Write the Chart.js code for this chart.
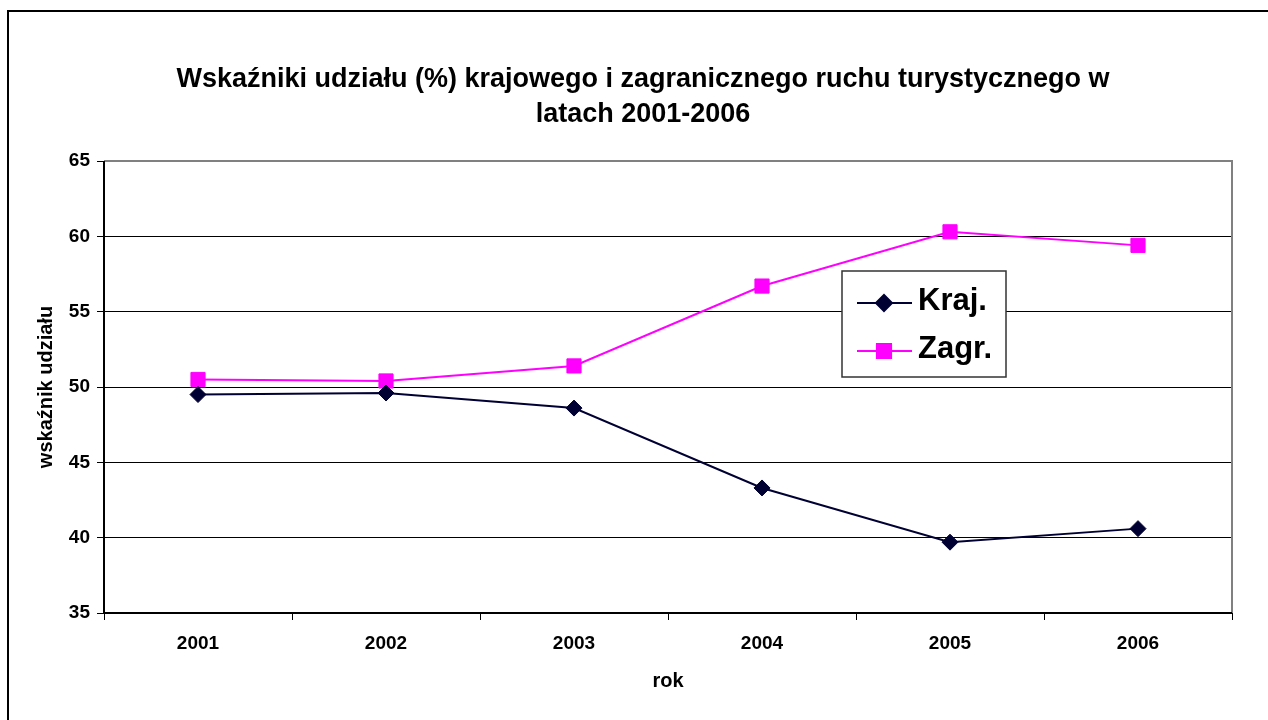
<!DOCTYPE html>
<html>
<head>
<meta charset="utf-8">
<script src="https://cdn.jsdelivr.net/npm/chart.js@4/dist/chart.umd.min.js"></script>
<style>
body{margin:0;overflow:hidden;background:#fff;}
#frame{position:absolute;left:7px;top:10px;width:1400px;height:900px;border-left:2px solid #000;border-top:2px solid #000;}
#chart{position:absolute;left:0;top:0;}
</style>
</head>
<body>
<div id="frame"></div>
<canvas id="chart" width="1268" height="720"></canvas>
<script>

let years = ["2001","2002","2003","2004","2005","2006"];
let kraj = [49.5, 49.6, 48.6, 43.3, 39.7, 40.6];
let zagr = [50.5, 50.4, 51.4, 56.7, 60.3, 59.4];
let titleLines = ["Wskaźniki udziału (%) krajowego i zagranicznego ruchu turystycznego w","latach 2001-2006"];

let font = "'Liberation Sans', Arial, sans-serif";

/* ================= TITLE + FRAME + LEGEND ================= */

let extras = {
id:"extras",
beforeDatasetsDraw(chart){
let ctx = chart.ctx;
let a = chart.chartArea;
ctx.save();
ctx.strokeStyle = "#808080";
ctx.lineWidth = 2;
ctx.beginPath();
ctx.moveTo(a.left, a.top);
ctx.lineTo(a.right, a.top);
ctx.lineTo(a.right, a.bottom);
ctx.stroke();
ctx.strokeStyle = "#000";
ctx.beginPath();
ctx.moveTo(a.left, a.top);
ctx.lineTo(a.left, a.bottom);
ctx.lineTo(a.right, a.bottom);
ctx.stroke();
ctx.restore();
},
afterDraw(chart){
let ctx = chart.ctx;
ctx.save();

// title
ctx.fillStyle = "#000";
ctx.font = "bold 27px " + font;
ctx.textAlign = "center";
ctx.textBaseline = "middle";
ctx.fillText(titleLines[0], 643, 80);
ctx.fillText(titleLines[1], 643, 115);

// legend box
ctx.fillStyle = "#fff";
ctx.fillRect(842, 271, 164, 106);
ctx.strokeStyle = "#333";
ctx.lineWidth = 1.5;
ctx.strokeRect(842, 271, 164, 106);

let rows = [303, 351];
chart.data.datasets.forEach((ds,i)=>{
let y = rows[i];
ctx.strokeStyle = ds.borderColor;
ctx.lineWidth = 2;
ctx.beginPath();
ctx.moveTo(857, y);
ctx.lineTo(912, y);
ctx.stroke();
Chart.helpers.drawPoint(ctx, {
pointStyle: ds.pointStyle,
radius: ds.pointRadius,
borderWidth: 1,
rotation: 0
}, 884, y);
ctx.fillStyle = ds.backgroundColor;
ctx.strokeStyle = ds.borderColor;
ctx.fill();
ctx.fillStyle = "#000";
ctx.font = "bold 31px " + font;
ctx.textAlign = "left";
ctx.textBaseline = "middle";
ctx.fillText(ds.label, 918, y - 2);
});

ctx.restore();
}
};

/* ================= CHART ================= */

new Chart(document.getElementById("chart"),{

type:'line',

data:{
labels:years,
datasets:[{
label:"Kraj.",
data:kraj,
borderColor:"#000033",
backgroundColor:"#000033",
borderWidth:2,
pointStyle:"rectRot",
pointRadius:8,
pointBorderWidth:1,
tension:0
},{
label:"Zagr.",
data:zagr,
borderColor:"#ff00ff",
backgroundColor:"#ff00ff",
borderWidth:2,
pointStyle:"rect",
pointRadius:10,
pointBorderWidth:1,
tension:0
}]
},

options:{
responsive:false,
animation:false,
layout:{
padding:{left:20, right:36, top:161, bottom:20}
},
plugins:{
legend:{display:false},
title:{display:false},
tooltip:{enabled:false}
},
scales:{
x:{
offset:true,
afterFit(scale){ scale.height = 87; },
grid:{
offset:true,
drawOnChartArea:false,
drawTicks:true,
tickLength:7,
color:"#000",
lineWidth:1
},
border:{display:false},
ticks:{
color:"#000",
padding:12,
font:{family:font, size:19, weight:"bold"}
},
title:{
display:true,
text:"rok",
color:"#000",
padding:{top:0, bottom:7},
font:{family:font, size:20, weight:"bold"}
}
},
y:{
min:35,
max:65,
afterFit(scale){ scale.width = 84; },
grid:{
color:"#000",
lineWidth:1,
tickLength:7
},
border:{display:false},
ticks:{
stepSize:5,
color:"#000",
padding:7,
font:{family:font, size:19, weight:"bold"}
},
title:{
display:true,
text:"wskaźnik udziału",
color:"#000",
padding:{top:14, bottom:0},
font:{family:font, size:20, weight:"bold"}
}
}
}
},

plugins:[extras]

});

</script>
</body>
</html>
